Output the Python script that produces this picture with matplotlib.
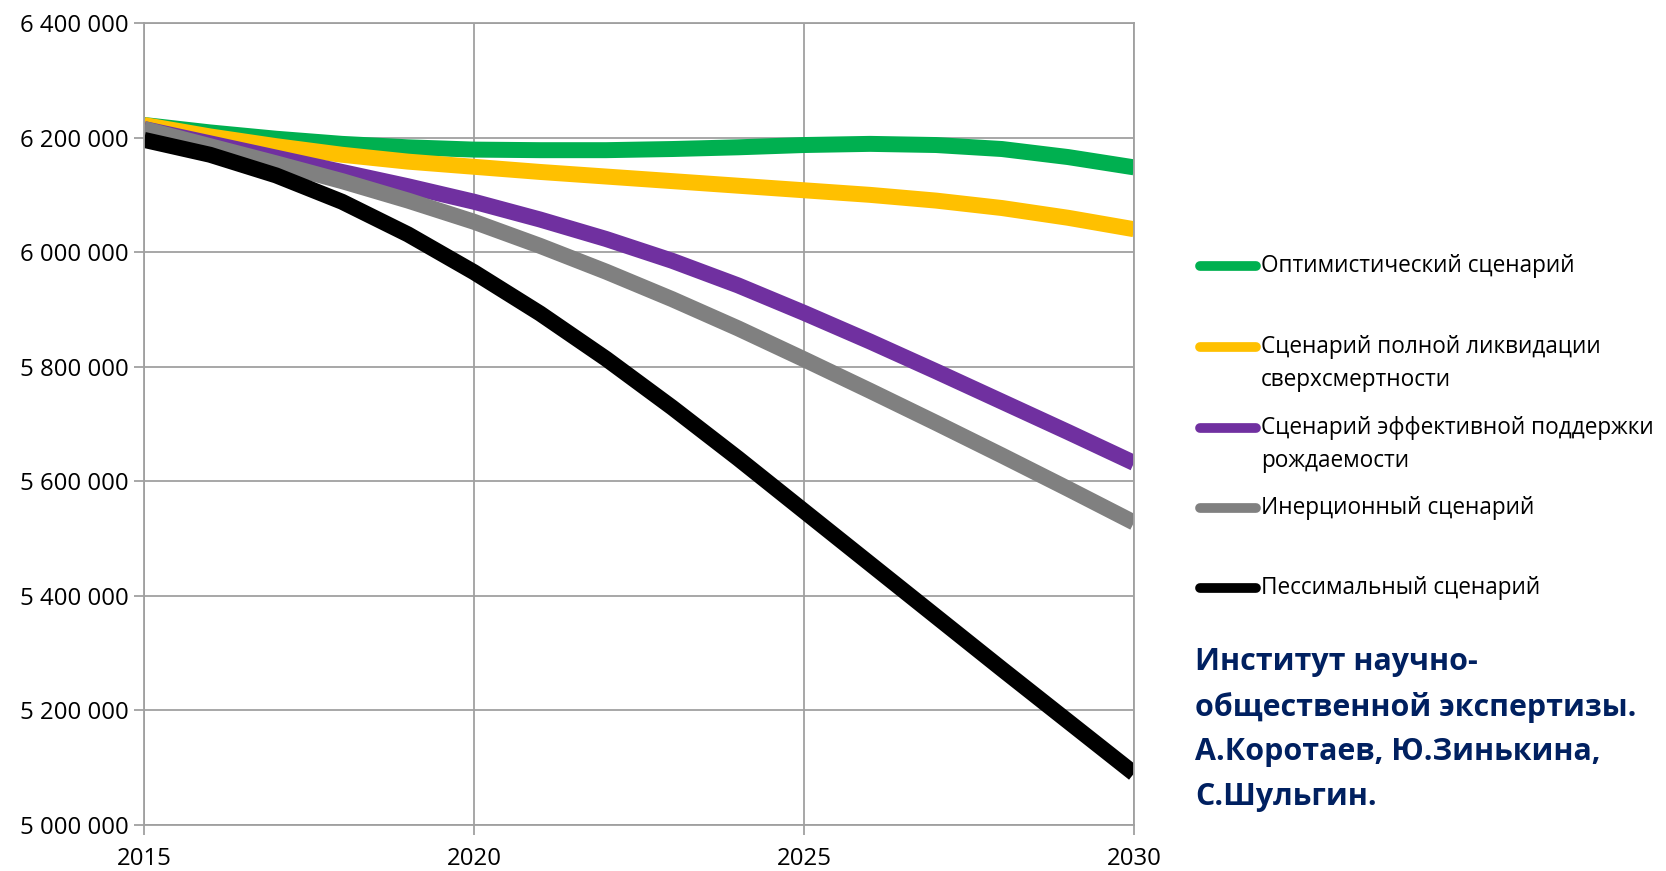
import matplotlib
matplotlib.use("Agg")
import matplotlib.pyplot as plt
from matplotlib.lines import Line2D
from matplotlib.ticker import FuncFormatter

plt.rcParams['font.family'] = ['Open Sans', 'DejaVu Sans']

years = list(range(2015, 2031))

optimistic = [6222000, 6209000, 6198000, 6189000, 6183000, 6179000, 6178000, 6178000,
              6180000, 6183000, 6187000, 6189000, 6187000, 6180000, 6166000, 6148000]
mortality = [6222000, 6202000, 6185000, 6170000, 6158000, 6149000, 6140000, 6132000,
             6124000, 6116000, 6108000, 6100000, 6090000, 6077000, 6060000, 6040000]
fertility = [6215000, 6190000, 6165000, 6140000, 6115000, 6088000, 6057000, 6023000,
             5985000, 5942000, 5894000, 5844000, 5792000, 5739000, 5686000, 5632000]
inertial = [6215000, 6185000, 6155000, 6124000, 6090000, 6053000, 6011000, 5966000,
            5918000, 5867000, 5813000, 5758000, 5702000, 5645000, 5587000, 5528000]
pessimal = [6196000, 6170000, 6134000, 6088000, 6031000, 5965000, 5893000, 5814000,
            5729000, 5640000, 5548000, 5456000, 5364000, 5272000, 5181000, 5090000]

series = [
    (optimistic, '#00B050', ['Оптимистический сценарий']),
    (mortality, '#FFC000', ['Сценарий полной ликвидации', 'сверхсмертности']),
    (fertility, '#7030A0', ['Сценарий эффективной поддержки', 'рождаемости']),
    (inertial, '#808080', ['Инерционный сценарий']),
    (pessimal, '#000000', ['Пессимальный сценарий']),
]
# y position of each legend key (figure pixels from top)
legend_y = [266, 347, 428, 508, 588]

W, H = 1666, 871
fig = plt.figure(figsize=(W / 100, H / 100), dpi=100)
ax = fig.add_axes([144 / W, 1 - 825 / H, (1134 - 144) / W, (825 - 23) / H])

grid_c = '#A0A0A0'
for vals, color, label in series:
    ax.plot(years, vals, color=color, lw=11.5, solid_capstyle='butt', solid_joinstyle='round')

ax.set_xlim(2015, 2030)
ax.set_ylim(5000000, 6400000)
ax.set_xticks([2015, 2020, 2025, 2030])
ax.set_yticks(range(5000000, 6400001, 200000))
ax.yaxis.set_major_formatter(FuncFormatter(lambda v, p: '{:,.0f}'.format(v).replace(',', ' ')))
ax.grid(True, color=grid_c, lw=1.3)
ax.set_axisbelow(True)
for s in ax.spines.values():
    s.set_color(grid_c)
    s.set_linewidth(1.3)
ax.tick_params(axis='both', color=grid_c, width=1.3, length=7, labelsize=17.3, labelcolor='black')
ax.tick_params(axis='x', pad=9)
ax.tick_params(axis='y', pad=4)

for (vals, color, lines), ly in zip(series, legend_y):
    yf = 1 - ly / H
    fig.add_artist(Line2D([1200 / W, 1256 / W], [yf, yf], transform=fig.transFigure,
                          color=color, lw=7, solid_capstyle='round'))
    for i, line in enumerate(lines):
        fig.text(1261 / W, 1 - (ly + 33 * i) / H, line, fontsize=16.3, va='center', ha='left')

credits = ['Институт научно-', 'общественной экспертизы.', 'А.Коротаев, Ю.Зинькина,', 'С.Шульгин.']
for i, line in enumerate(credits):
    fig.text(1195 / W, 1 - (662 + 45 * i) / H, line, fontsize=21.9, fontweight='bold',
             color='#002060', va='center', ha='left')

fig.savefig('out.png', dpi=100)
